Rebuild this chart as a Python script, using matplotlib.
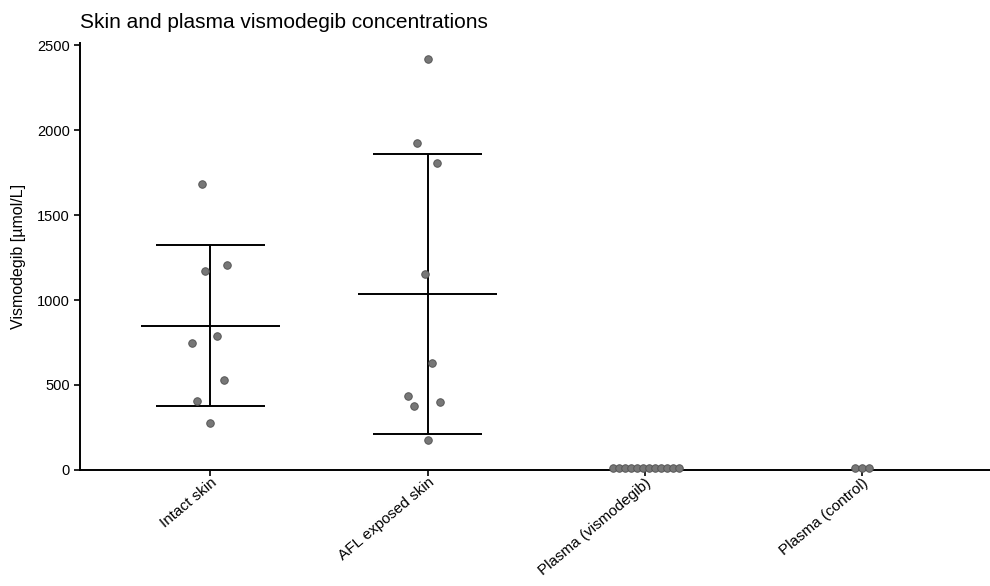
import numpy as np
import matplotlib
matplotlib.use("Agg")
import matplotlib.pyplot as plt

plt.rcParams['font.family'] = ['Liberation Sans', 'DejaVu Sans']

groups = ["Intact skin", "AFL exposed skin", "Plasma (vismodegib)", "Plasma (control)"]
intact_skin = [1684, 1168, 1207, 788, 745, 528, 406, 274]
afl_skin = [2418, 1921, 1807, 1154, 632, 438, 377, 397, 174]
plasma_vismo = [10, 10, 10, 10, 10, 10, 10, 10, 10, 10, 10, 10]
plasma_ctrl = [10, 10, 10]

# Décalages horizontaux des points (jitter)
intact_jit = [-0.041, -0.023, 0.074, 0.028, -0.087, 0.060, -0.060, 0.0]
afl_jit = [0.0, -0.051, 0.041, -0.011, 0.020, -0.092, -0.061, 0.058, 0.0]
vismo_jit = [-0.148, -0.120, -0.092, -0.064, -0.036, -0.008, 0.020, 0.048,
             0.076, 0.104, 0.132, 0.160]
ctrl_jit = [-0.032, 0.0, 0.032]

all_values = [intact_skin, afl_skin, plasma_vismo, plasma_ctrl]
all_jitter = [intact_jit, afl_jit, vismo_jit, ctrl_jit]
show_sd = [True, True, False, False]

fig = plt.figure(figsize=(9.9, 5.86), dpi=100)
ax = fig.add_axes([0.081, 0.198, 0.919, 0.728])

for i, (vals, jit) in enumerate(zip(all_values, all_jitter)):
    vals = np.array(vals, dtype=float)
    xs = i + np.array(jit)
    ax.plot(xs, vals, 'o', color='#777777', markeredgecolor='#555555',
            markeredgewidth=0.7, markersize=5.4, clip_on=False, zorder=3)
    if show_sd[i]:
        m = vals.mean()
        sd = vals.std(ddof=1)
        ax.hlines(m, i - 0.32, i + 0.32, color='black', lw=1.4, zorder=2)
        ax.vlines(i, m - sd, m + sd, color='black', lw=1.4, zorder=2)
        ax.hlines([m - sd, m + sd], i - 0.25, i + 0.25, color='black', lw=1.4, zorder=2)

ax.set_xlim(-0.6, 3.59)
ax.set_ylim(0, 2510)
ax.set_yticks([0, 500, 1000, 1500, 2000, 2500])
ax.set_xticks(range(len(groups)))
ax.set_xticklabels(groups, rotation=40, ha='right', va='top', rotation_mode='anchor',
                   fontsize=11)

for side in ['top', 'right']:
    ax.spines[side].set_visible(False)
for side in ['left', 'bottom']:
    ax.spines[side].set_linewidth(1.4)
ax.tick_params(axis='both', width=1.2, length=4, colors='black')
ax.tick_params(axis='y', labelsize=10.5)
ax.tick_params(axis='x', pad=0)

ax.set_ylabel("Vismodegib [µmol/L]", fontsize=11.5, labelpad=8)
ax.set_title("Skin and plasma vismodegib concentrations", loc='left', fontsize=15, pad=11)

fig.savefig("out.png", dpi=100)
